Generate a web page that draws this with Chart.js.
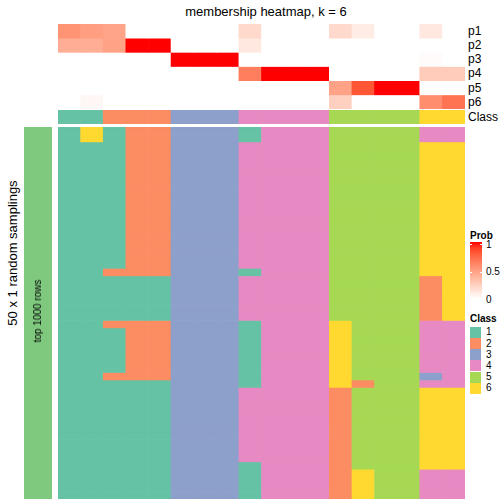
<!DOCTYPE html>
<html>
<head>
<meta charset="utf-8">
<script src="https://cdn.jsdelivr.net/npm/chart.js@4/dist/chart.umd.min.js"></script>
<style>
  body { margin: 0; width: 504px; height: 504px; position: relative; background: #fff; overflow: hidden;
         font-family: Arial, "Liberation Sans", sans-serif; color: #000; }
  canvas { position: absolute; }
  .t { position: absolute; white-space: nowrap; line-height: 1; }
  .sw { position: absolute; left: 470px; width: 11px; height: 11.2px; }
</style>
</head>
<body>
<canvas id="memb" width="407" height="85" style="left:58px;top:24px"></canvas>
<canvas id="cls" width="407" height="14" style="left:58px;top:110px"></canvas>
<canvas id="main" width="407" height="372" style="left:58px;top:127px"></canvas>
<canvas id="rowAnno" width="28" height="372" style="left:24px;top:127px"></canvas>

<div class="t" style="left:266px;top:11px;font-size:13px;transform:translate(-50%,-50%)">membership heatmap, k = 6</div>
<div class="t" style="left:11.5px;top:253px;font-size:13px;transform:translate(-50%,-50%) rotate(-90deg)">50 x 1 random samplings</div>
<div class="t" style="left:38px;top:311px;font-size:10px;transform:translate(-50%,-50%) rotate(-90deg)">top 1000 rows</div>
<div id="rowLabels"></div>
<div id="legend"></div>

<script>
// membership probabilities, one array per row (p1..p6), 18 columns
const p1 = [0.55, 0.5, 0.47, 0, 0, 0, 0, 0, 0.2, 0, 0, 0, 0.2, 0.1, 0, 0, 0.12, 0];
const p2 = [0.42, 0.42, 0.48, 1, 1, 0, 0, 0, 0.12, 0, 0, 0, 0, 0, 0, 0, 0, 0];
const p3 = [0, 0, 0, 0, 0, 1, 1, 1, 0, 0, 0, 0, 0, 0, 0, 0, 0.02, 0];
const p4 = [0, 0, 0, 0, 0, 0, 0, 0, 0.65, 1, 1, 1, 0, 0, 0, 0, 0.27, 0.27];
const p5 = [0, 0, 0, 0, 0, 0, 0, 0, 0, 0, 0, 0, 0.48, 0.82, 1, 1, 0, 0];
const p6 = [0, 0.04, 0, 0, 0, 0, 0, 0, 0, 0, 0, 0, 0.25, 0, 0, 0, 0.58, 0.7];
const membRows = ["p1", "p2", "p3", "p4", "p5", "p6"];

// consensus class per column
const classAnno = [1, 1, 2, 2, 2, 3, 3, 3, 4, 4, 4, 4, 5, 5, 5, 5, 6, 6];

// class per sampling (50 rows) for each of the 18 columns
const sampleClass = [
  "11111111111111111111111111111111111111111111111111",
  "66111111111111111111111111111111111111111111111111",
  "11111111111111111112111111211111121111111111111111",
  "22222222222222222222111111222222221111111111111111",
  "22222222222222222222111111222222221111111111111111",
  "33333333333333333333333333333333333333333333333333",
  "33333333333333333333333333333333333333333333333333",
  "33333333333333333333333333333333333333333333333333",
  "11444444444444444441444444111111111444444444411111",
  "44444444444444444444444444444444444444444444444444",
  "44444444444444444444444444444444444444444444444444",
  "44444444444444444444444444444444444444444444444444",
  "55555555555555555555555555666666666222222222222222",
  "55555555555555555555555555555555552555555555556666",
  "55555555555555555555555555555555555555555555555555",
  "55555555555555555555555555555555555555555555555555",
  "44666666666666666666222222444444434666666666664444",
  "44666666666666666666666666444444444666666666664444"
];

const classLabels = ["1", "2", "3", "4", "5", "6"];
const probTicks = ["1", "0.5", "0"];

const classColors = ["#66C2A5", "#FC8D62", "#8DA0CB", "#E78AC3", "#A6D854", "#FFD92F"];
const rowAnnoColor = "#7FC97F";

// white -> red in LAB space (like colorRamp2)
function probColor(v) {
  const L = 100 + (53.24 - 100) * v, A = 80.09 * v, B = 67.2 * v;
  const fy = (L + 16) / 116, fx = fy + A / 500, fz = fy - B / 200;
  const finv = t => t > 6 / 29 ? t * t * t : 3 * (6 / 29) * (6 / 29) * (t - 4 / 29);
  const X = 0.95047 * finv(fx), Y = finv(fy), Z = 1.08883 * finv(fz);
  const lin = [
    3.2406 * X - 1.5372 * Y - 0.4986 * Z,
    -0.9689 * X + 1.8758 * Y + 0.0415 * Z,
    0.0557 * X - 0.204 * Y + 1.057 * Z
  ];
  const rgb = lin.map(c => {
    c = Math.min(1, Math.max(0, c));
    c = c <= 0.0031308 ? 12.92 * c : 1.055 * Math.pow(c, 1 / 2.4) - 0.055;
    return Math.round(c * 255);
  });
  return "rgb(" + rgb.join(",") + ")";
}

function heatOptions(nRows) {
  return {
    responsive: false,
    animation: false,
    events: [],
    layout: { padding: 0 },
    plugins: { legend: { display: false }, tooltip: { enabled: false } },
    datasets: { bar: { barPercentage: 1, categoryPercentage: 1, borderWidth: 0 } },
    scales: {
      x: { display: false, stacked: true },
      y: { display: false, stacked: true, min: 0, max: nRows, reverse: true }
    }
  };
}

const colLabels = classAnno.map((c, i) => "c" + (i + 1));

// membership heatmap
const membData = [p1, p2, p3, p4, p5, p6];
new Chart(document.getElementById("memb"), {
  type: "bar",
  data: {
    labels: colLabels,
    datasets: membData.map((row, r) => ({
      label: membRows[r],
      data: row.map(() => 1),
      backgroundColor: row.map(probColor)
    }))
  },
  options: heatOptions(6)
});

// class annotation
new Chart(document.getElementById("cls"), {
  type: "bar",
  data: {
    labels: colLabels,
    datasets: [{ label: "Class", data: classAnno.map(() => 1), backgroundColor: classAnno.map(c => classColors[c - 1]) }]
  },
  options: heatOptions(1)
});

// main sampling heatmap
const nSamp = sampleClass[0].length;
const mainSets = [];
for (let r = 0; r < nSamp; r++) {
  mainSets.push({
    label: "s" + (r + 1),
    data: sampleClass.map(() => 1),
    backgroundColor: sampleClass.map(col => classColors[Number(col[r]) - 1])
  });
}
new Chart(document.getElementById("main"), {
  type: "bar",
  data: { labels: colLabels, datasets: mainSets },
  options: heatOptions(nSamp)
});

// row annotation bar
new Chart(document.getElementById("rowAnno"), {
  type: "bar",
  data: { labels: ["top 1000 rows"], datasets: [{ data: [1], backgroundColor: rowAnnoColor }] },
  options: heatOptions(1)
});

// row labels
let html = "";
const labelY = [31, 45, 59, 73, 87.5, 102, 117];
membRows.concat(["Class"]).forEach((t, i) => {
  html += `<div class="t" style="left:468px;top:${labelY[i]}px;font-size:12px;transform:translateY(-50%)">${t}</div>`;
});
document.getElementById("rowLabels").innerHTML = html;

// legends
let stops = [];
for (let i = 0; i <= 10; i++) stops.push(probColor(1 - i / 10) + " " + (i * 10) + "%");
let lg = "";
lg += `<div class="t" style="left:470px;top:236px;font-size:10px;font-weight:bold;transform:translateY(-50%)">Prob</div>`;
lg += `<div style="position:absolute;left:470px;top:242px;width:12px;height:57px;background:linear-gradient(${stops.join(",")})"></div>`;
const tickY = [244.5, 272, 299.5];
probTicks.forEach((t, i) => {
  lg += `<div style="position:absolute;left:470px;top:${tickY[i] - 0.5}px;width:2px;height:1px;background:#fff"></div>`;
  lg += `<div style="position:absolute;left:480px;top:${tickY[i] - 0.5}px;width:2px;height:1px;background:#fff"></div>`;
  lg += `<div class="t" style="left:486px;top:${tickY[i]}px;font-size:10px;transform:translateY(-50%)">${t}</div>`;
});
lg += `<div class="t" style="left:470px;top:319px;font-size:10px;font-weight:bold;transform:translateY(-50%)">Class</div>`;
classLabels.forEach((t, i) => {
  const y = 326.7 + i * 11.2;
  lg += `<div class="sw" style="top:${y}px;background:${classColors[i]}"></div>`;
  lg += `<div class="t" style="left:486px;top:${y + 5.6}px;font-size:10px;transform:translateY(-50%)">${t}</div>`;
});
document.getElementById("legend").innerHTML = lg;
</script>
</body>
</html>
